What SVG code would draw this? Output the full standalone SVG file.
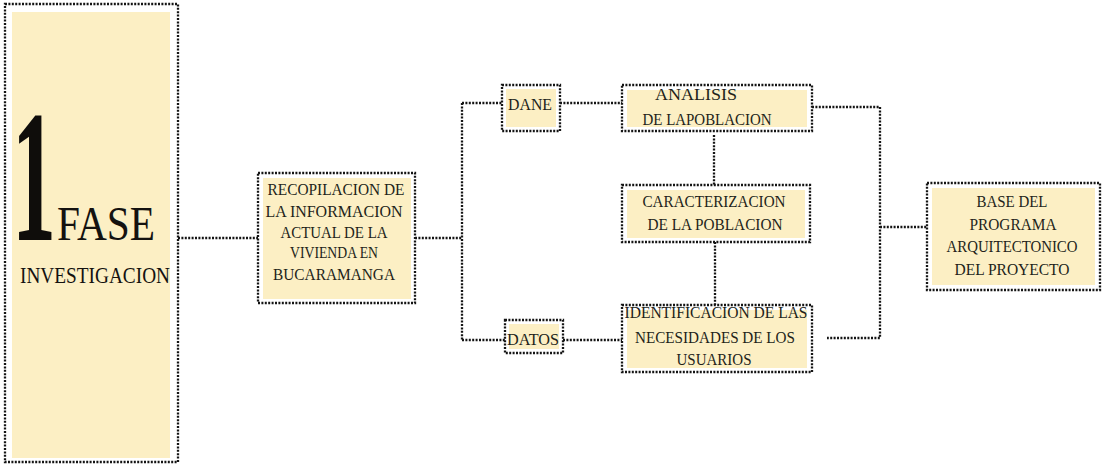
<svg xmlns="http://www.w3.org/2000/svg" width="1102" height="464" viewBox="0 0 1102 464">
  <style>
    .frame { fill: none; stroke: #141414; stroke-width: 2.3; stroke-dasharray: 2 1.4; }
    .fill { fill: #fcefc4; stroke: none; }
    .link { fill: none; stroke: #141414; stroke-width: 2.3; stroke-dasharray: 2 1.4; }
    .lbl { font-family: "Liberation Serif", "Times New Roman", serif; font-size: 16px; fill: #231f1a; text-anchor: middle; }
    .lbl text { lengthAdjust: spacingAndGlyphs; }
  </style>
  <rect x="0" y="0" width="1102" height="464" fill="#ffffff"/>

  <!-- connectors -->
  <g id="connectors">
    <path class="link" d="M178 238 H258"/>
    <path class="link" d="M415 238 H462"/>
    <path class="link" d="M462 103 V340"/>
    <path class="link" d="M462 103 H502"/>
    <path class="link" d="M462 340 H505"/>
    <path class="link" d="M560 103 H622"/>
    <path class="link" d="M563 340 H622"/>
    <path class="link" d="M714 135 V185"/>
    <path class="link" d="M715 242 V305"/>
    <path class="link" d="M812 107 H880 V338 H827"/>
    <path class="link" d="M880 227 H927"/>
  </g>

  <!-- phase title -->
  <g id="fase">
    <rect class="fill" x="12" y="12" width="158" height="446"/>
    <rect class="frame" x="5" y="4" width="173" height="458"/>
    <text x="12" y="240" font-family="Liberation Serif, serif" font-weight="bold" font-size="188" fill="#0f0d0b" textLength="44" lengthAdjust="spacingAndGlyphs">1</text>
    <text x="57" y="240" font-family="Liberation Serif, serif" font-size="48" fill="#141210" textLength="98" lengthAdjust="spacingAndGlyphs">FASE</text>
    <text x="20" y="283" font-family="Liberation Serif, serif" font-size="24" fill="#141210" textLength="150" lengthAdjust="spacingAndGlyphs">INVESTIGACION</text>
  </g>

  <g id="recopilacion">
    <rect class="fill" x="263" y="178" width="148" height="121"/>
    <rect class="frame" x="258" y="173" width="157" height="130"/>
    <g class="lbl">
      <text x="336" y="195" textLength="137" lengthAdjust="spacingAndGlyphs">RECOPILACION DE</text>
      <text x="334" y="217" textLength="137" lengthAdjust="spacingAndGlyphs">LA INFORMACION</text>
      <text x="334" y="238" textLength="107" lengthAdjust="spacingAndGlyphs">ACTUAL DE  LA</text>
      <text x="334" y="258" textLength="88" lengthAdjust="spacingAndGlyphs">VIVIENDA EN</text>
      <text x="334" y="280" textLength="122" lengthAdjust="spacingAndGlyphs">BUCARAMANGA</text>
    </g>
  </g>

  <g id="dane">
    <rect class="fill" x="506" y="89" width="50" height="38"/>
    <rect class="frame" x="502" y="85" width="58" height="46"/>
    <g class="lbl"><text x="530" y="110" font-size="17" textLength="44" lengthAdjust="spacingAndGlyphs">DANE</text></g>
  </g>

  <g id="analisis">
    <rect class="fill" x="627" y="90" width="180" height="37"/>
    <rect class="frame" x="622" y="85" width="190" height="46"/>
    <g class="lbl">
      <text x="696" y="100" textLength="82" lengthAdjust="spacingAndGlyphs">ANALISIS</text>
      <text x="707" y="125" textLength="129" lengthAdjust="spacingAndGlyphs">DE LAPOBLACION</text>
    </g>
  </g>

  <g id="caracterizacion">
    <rect class="fill" x="627" y="190" width="178" height="48"/>
    <rect class="frame" x="622" y="185" width="188" height="57"/>
    <g class="lbl">
      <text x="714" y="207" textLength="143" lengthAdjust="spacingAndGlyphs">CARACTERIZACION</text>
      <text x="715" y="230" textLength="135" lengthAdjust="spacingAndGlyphs">DE LA POBLACION</text>
    </g>
  </g>

  <g id="datos">
    <rect class="fill" x="509" y="324" width="50" height="25"/>
    <rect class="frame" x="505" y="320" width="58" height="33"/>
    <g class="lbl"><text x="533" y="345" font-size="17" textLength="52" lengthAdjust="spacingAndGlyphs">DATOS</text></g>
  </g>

  <g id="identificacion">
    <rect class="fill" x="627" y="310" width="180" height="58"/>
    <rect class="frame" x="622" y="305" width="190" height="67"/>
    <g class="lbl">
      <text x="716" y="318" font-size="17" textLength="183" lengthAdjust="spacingAndGlyphs">IDENTIFICACION DE LAS</text>
      <text x="715" y="343" font-size="17" textLength="160" lengthAdjust="spacingAndGlyphs">NECESIDADES DE LOS</text>
      <text x="714" y="365" font-size="17" textLength="75" lengthAdjust="spacingAndGlyphs">USUARIOS</text>
    </g>
  </g>

  <g id="base">
    <rect class="fill" x="932" y="188" width="163" height="97"/>
    <rect class="frame" x="927" y="183" width="173" height="107"/>
    <g class="lbl">
      <text x="1012" y="207" textLength="71" lengthAdjust="spacingAndGlyphs">BASE DEL</text>
      <text x="1013" y="230" textLength="87" lengthAdjust="spacingAndGlyphs">PROGRAMA</text>
      <text x="1012" y="252" textLength="131" lengthAdjust="spacingAndGlyphs">ARQUITECTONICO</text>
      <text x="1012" y="275" textLength="115" lengthAdjust="spacingAndGlyphs">DEL PROYECTO</text>
    </g>
  </g>
</svg>
